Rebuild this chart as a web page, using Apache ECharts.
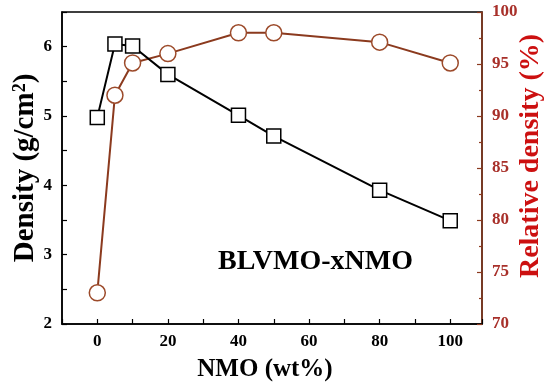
<!DOCTYPE html>
<html>
<head>
<meta charset="utf-8">
<script src="https://cdn.jsdelivr.net/npm/echarts@6/dist/echarts.min.js"></script>
<style>html,body{margin:0;padding:0;background:#fff;}#c{width:550px;height:387px;}</style>
</head>
<body>
<div id="c"></div>
<script>
const nmo = [0, 5, 10, 20, 40, 50, 80, 100];
const density = [4.98, 6.04, 6.01, 5.6, 5.01, 4.71, 3.93, 3.49];
const relativeDensity = [73.0, 92.0, 95.1, 96.0, 98.0, 98.0, 97.1, 95.1];
const leftTicks = [2, 3, 4, 5, 6];
const rightTicks = [70, 75, 80, 85, 90, 95, 100];
const xTicks = [0, 20, 40, 60, 80, 100];

const FONT = 'Liberation Serif';
const brownLine = '#8B3A1E';
const brownMark = '#9C4A2A';
const redTitle = '#CC1010';
const redLabel = '#A8302A';

const chart = echarts.init(document.getElementById('c'), null, {renderer: 'canvas'});
chart.setOption({
  backgroundColor: '#fff',
  animation: false,
  title: {
    text: 'BLVMO-xNMO',
    left: 213, top: 243,
    textStyle: {fontFamily: FONT, fontWeight: 'bold', fontSize: 28, color: '#000'}
  },
  grid: {left: 62, right: 68, top: 12, bottom: 63, containLabel: false, outerBoundsMode: 'none',
    show: true, borderColor: '#000', borderWidth: 1.5, backgroundColor: 'transparent'},
  xAxis: {
    type: 'value', min: -10, max: 109, interval: 10,
    name: 'NMO (wt%)', nameLocation: 'middle', nameGap: 33, nameMoveOverlap: false,
    nameTextStyle: {fontFamily: FONT, fontWeight: 'bold', fontSize: 25, color: '#000', padding: [0, 14, 0, 0]},
    axisLine: {onZero: false, lineStyle: {color: '#000', width: 1.5}},
    axisTick: {inside: true, length: 5, lineStyle: {color: '#000', width: 1.2}},
    axisLabel: {
      margin: 9, fontFamily: FONT, fontWeight: 'bold', fontSize: 17, color: '#000',
      formatter: v => xTicks.includes(v) ? String(v) : ''
    },
    splitLine: {show: false}
  },
  yAxis: [{
    type: 'value', min: 2, max: 6.5, interval: 0.5, position: 'left',
    name: 'Density (g/cm{sup|2})', nameLocation: 'middle', nameGap: 21, nameRotate: 90, nameMoveOverlap: false,
    nameTextStyle: {fontFamily: FONT, fontWeight: 'bold', fontSize: 29, color: '#000',
      rich: {sup: {fontFamily: FONT, fontWeight: 'bold', fontSize: 18, color: '#000', verticalAlign: 'top', padding: [0, 0, 12, 0]}}},
    axisLine: {show: true, onZero: false, lineStyle: {color: '#000', width: 1.5}},
    axisTick: {inside: true, length: 5, lineStyle: {color: '#000', width: 1.2}},
    axisLabel: {
      margin: 10, fontFamily: FONT, fontWeight: 'bold', fontSize: 17, color: '#000',
      formatter: v => leftTicks.includes(v) ? String(v) : ''
    },
    splitLine: {show: false}
  }, {
    type: 'value', min: 70, max: 100, interval: 5, position: 'right',
    name: 'Relative density (%)', nameLocation: 'middle', nameGap: 35, nameRotate: 90, nameMoveOverlap: false,
    nameTextStyle: {fontFamily: FONT, fontWeight: 'bold', fontSize: 28, color: redTitle, padding: [0, 0, 0, 24]},
    axisLine: {show: true, onZero: false, lineStyle: {color: brownLine, width: 1.5}},
    axisTick: {inside: true, length: 5, lineStyle: {color: brownLine, width: 1.2}},
    minorTick: {show: true, splitNumber: 2, length: 3, lineStyle: {color: brownLine, width: 1.2}},
    axisLabel: {
      margin: 10, fontFamily: FONT, fontWeight: 'bold', fontSize: 17, color: redLabel,
      formatter: v => rightTicks.includes(v) ? String(v) : ''
    },
    splitLine: {show: false}
  }],
  series: [{
    type: 'line', yAxisIndex: 1,
    data: nmo.map((x, i) => [x, relativeDensity[i]]),
    symbol: 'circle', symbolSize: 16,
    lineStyle: {color: brownLine, width: 2},
    itemStyle: {color: '#fff', borderColor: brownMark, borderWidth: 1.5},
    z: 2
  }, {
    type: 'line', yAxisIndex: 0,
    data: nmo.map((x, i) => [x, density[i]]),
    symbol: 'rect', symbolSize: 14,
    lineStyle: {color: '#000', width: 2},
    itemStyle: {color: '#fff', borderColor: '#000', borderWidth: 1.5},
    z: 3
  }]
});
</script>
</body>
</html>
